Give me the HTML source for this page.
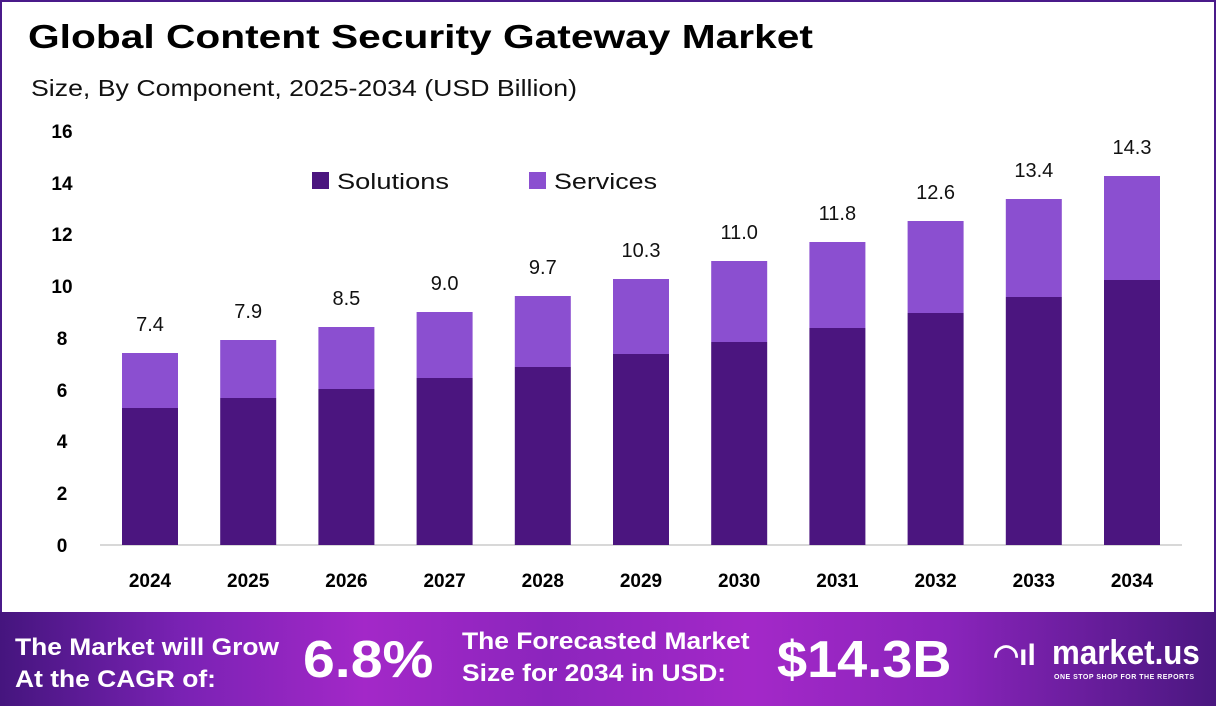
<!DOCTYPE html>
<html><head><meta charset="utf-8"><style>
body{margin:0;width:1216px;height:706px;overflow:hidden;background:#fff;font-family:"Liberation Sans",sans-serif;}
.wrap{position:absolute;left:0;top:0;width:1212px;height:612px;border:2px solid #4a1a8a;border-bottom:none;}
.foot{position:absolute;left:0;top:612px;width:1216px;height:94px;background:linear-gradient(90deg,#45157e 0%,#7a22b4 15%,#a328c8 30%,#8c25bd 45%,#a328c8 62%,#8a24bb 78%,#4a1780 100%);color:#fff;font-weight:bold;}
.foot div{position:absolute;white-space:nowrap;}
</style></head><body>
<div class="wrap"></div>
<svg width="1216" height="612" style="position:absolute;left:0;top:0" font-family="Liberation Sans, sans-serif">
<text x="28" y="48" font-size="33" font-weight="bold" fill="#000" textLength="785" lengthAdjust="spacingAndGlyphs">Global Content Security Gateway Market</text>
<text x="31" y="96" font-size="23" fill="#111" textLength="546" lengthAdjust="spacingAndGlyphs">Size, By Component, 2025-2034 (USD Billion)</text>
<g font-size="19" font-weight="bold" fill="#000" text-anchor="middle">
<text x="62" y="138">16</text><text x="62" y="190">14</text><text x="62" y="241">12</text><text x="62" y="293">10</text>
<text x="62" y="345">8</text><text x="62" y="397">6</text><text x="62" y="448">4</text><text x="62" y="500">2</text><text x="62" y="552">0</text>
</g>
<line x1="100" y1="545" x2="1182" y2="545" stroke="#ccc" stroke-width="1.5"/>
<rect x="312" y="172" width="17" height="17" fill="#4b157f"/><text x="337" y="189" font-size="22" fill="#111" textLength="112" lengthAdjust="spacingAndGlyphs">Solutions</text>
<rect x="529" y="172" width="17" height="17" fill="#8b4fd0"/><text x="554" y="189" font-size="22" fill="#111" textLength="103" lengthAdjust="spacingAndGlyphs">Services</text>
<g id="bars"></g>
</svg>
<div class="foot">
<div style="left:15px;top:20px;font-size:24px;line-height:32px;transform:scaleX(1.1);transform-origin:left">The Market will Grow<br>At the CAGR of:</div>
<div style="left:303px;top:18px;font-size:52px;transform:scaleX(1.1);transform-origin:left">6.8%</div>
<div style="left:462px;top:14px;font-size:24px;line-height:32px;transform:scaleX(1.1);transform-origin:left">The Forecasted Market<br>Size for 2034 in USD:</div>
<div style="left:777px;top:18px;font-size:52px;transform:scaleX(1.04);transform-origin:left">$14.3B</div>
<div style="left:993px;top:26px;font-size:30px">&#x25E0;ıl</div>
<div style="left:1052px;top:22px;font-size:34px;transform:scaleX(0.92);transform-origin:left">market.us</div>
<div style="left:1054px;top:62px;font-size:7px;letter-spacing:0.5px">ONE STOP SHOP FOR THE REPORTS</div>
</div>
<script>
var d=[[2024,408,353,"7.4"],[2025,398,340,"7.9"],[2026,389,327,"8.5"],[2027,378,312,"9.0"],[2028,367,296,"9.7"],[2029,354,279,"10.3"],[2030,342,261,"11.0"],[2031,328,242,"11.8"],[2032,313,221,"12.6"],[2033,297,199,"13.4"],[2034,280,176,"14.3"]];
var s="";d.forEach(function(r,i){var c=150+i*98.2,x=c-28;
s+='<rect x="'+x+'" y="'+r[2]+'" width="56" height="'+(r[1]-r[2])+'" fill="#8b4fd0"/>';
s+='<rect x="'+x+'" y="'+r[1]+'" width="56" height="'+(545-r[1])+'" fill="#4b157f"/>';
s+='<text x="'+c+'" y="'+(r[2]-22)+'" font-size="20" text-anchor="middle" fill="#111">'+r[3]+'</text>';
s+='<text x="'+c+'" y="587" font-size="19" font-weight="bold" text-anchor="middle" fill="#000">'+r[0]+'</text>';});
document.getElementById("bars").innerHTML=s;
</script>
</body></html>
